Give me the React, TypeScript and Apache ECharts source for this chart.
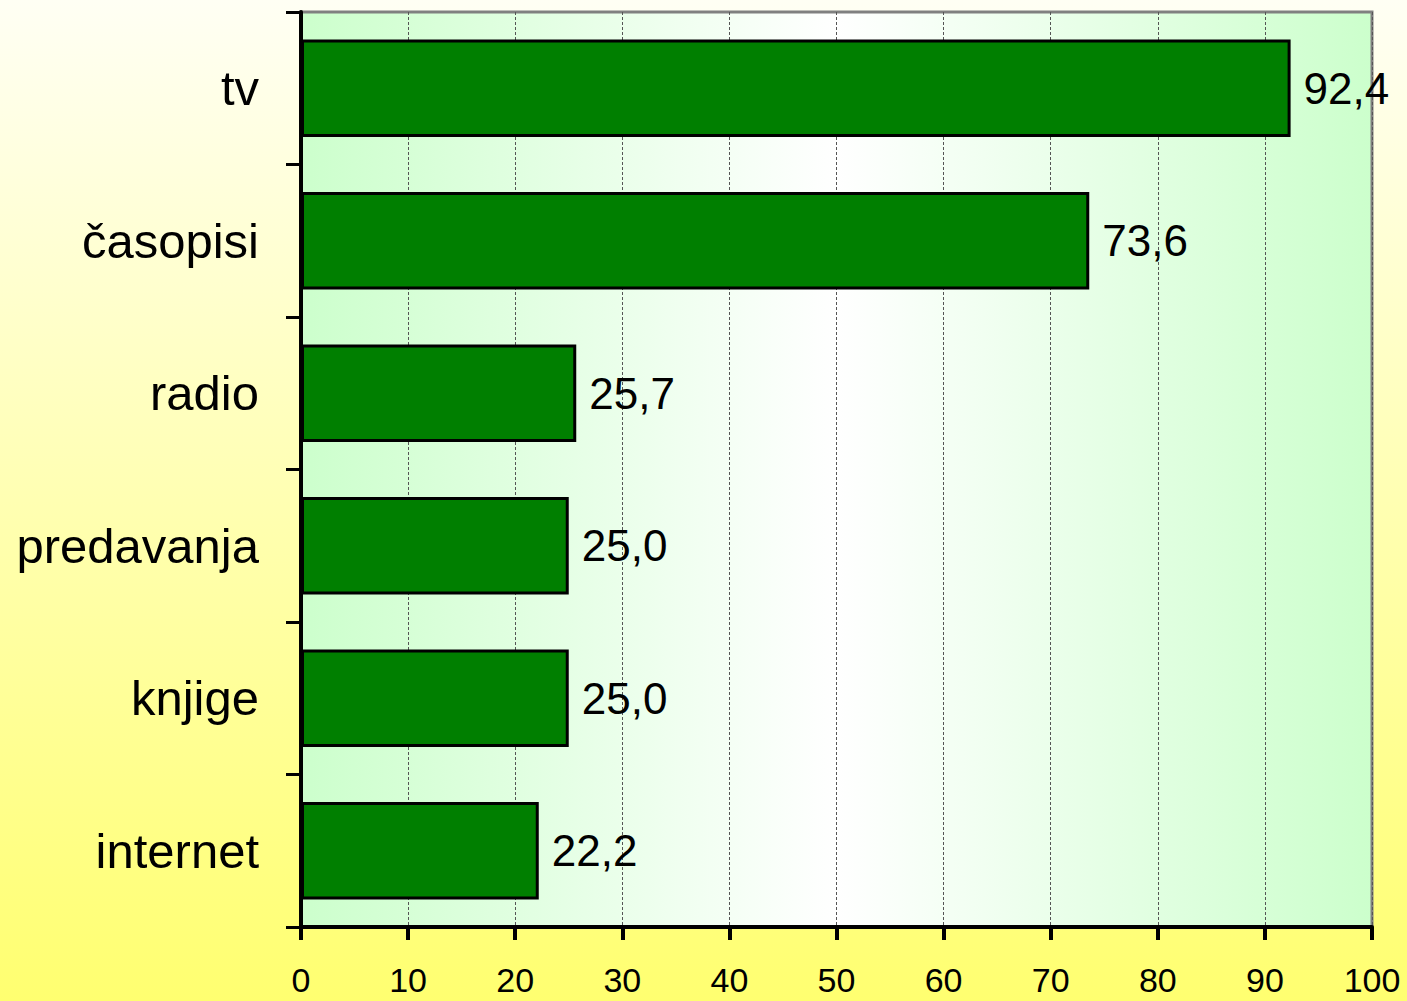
import React, { useEffect, useRef } from "react";
import * as echarts from "echarts";

const categories = ["tv", "časopisi", "radio", "predavanja", "knjige", "internet"];
const values = [92.4, 73.6, 25.7, 25.0, 25.0, 22.2];
const xTicks = [0, 100, 10];

export default function App() {
  const ref = useRef<HTMLDivElement>(null);
  useEffect(() => {
    const chart = echarts.init(ref.current!, null, { renderer: "svg" });
    chart.setOption({
      animation: false,
      backgroundColor: new echarts.graphic.LinearGradient(0, 0, 0, 1, [
        { offset: 0, color: "#FFFFF4" },
        { offset: 1, color: "#FFFF70" },
      ]),
      textStyle: { fontFamily: "Liberation Sans, Arial, sans-serif" },
      grid: {
        left: 301,
        top: 12,
        right: 35,
        bottom: 74,
        show: true,
        borderColor: "#808080",
        borderWidth: 3,
        backgroundColor: new echarts.graphic.LinearGradient(0, 0, 1, 0, [
          { offset: 0, color: "#CCFFCC" },
          { offset: 0.5, color: "#FFFFFF" },
          { offset: 1, color: "#CCFFCC" },
        ]),
      },
      xAxis: {
        type: "value",
        min: xTicks[0],
        max: xTicks[1],
        interval: xTicks[2],
        axisLine: { show: true, lineStyle: { color: "#000", width: 4 } },
        axisTick: { show: true, length: 13, lineStyle: { color: "#000", width: 4 } },
        axisLabel: {
          color: "#000",
          fontSize: 34,
          lineHeight: 30,
          margin: 38,
          fontFamily: "Liberation Sans, Arial, sans-serif",
        },
        splitLine: { show: true, lineStyle: { color: "#555", width: 1, type: [3, 2] } },
      },
      yAxis: {
        type: "category",
        data: categories,
        inverse: true,
        axisLine: { show: true, lineStyle: { color: "#000", width: 4 } },
        axisTick: { show: true, length: 15, lineStyle: { color: "#000", width: 3 } },
        axisLabel: { color: "#000", fontSize: 49, margin: 42, fontFamily: "Liberation Sans, Arial, sans-serif" },
        splitLine: { show: false },
      },
      series: [
        {
          type: "bar",
          data: values,
          barWidth: "64%",
          itemStyle: { color: "#007F00", borderColor: "#000", borderWidth: 3 },
          label: {
            show: true,
            position: "right",
            distance: 13,
            color: "#000",
            fontSize: 44,
            fontFamily: "Liberation Sans, Arial, sans-serif",
            formatter: (p: any) => p.value.toFixed(1).replace(".", ","),
          },
        },
      ],
    });
    return () => chart.dispose();
  }, []);
  return <div ref={ref} style={{ position: "fixed", left: 0, top: 0, width: 1407, height: 1001 }} />;
}
